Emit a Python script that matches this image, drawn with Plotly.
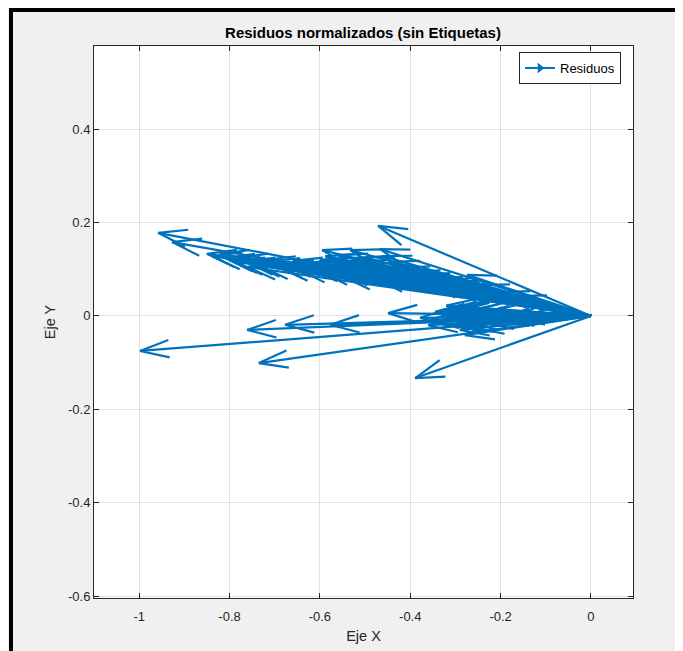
import math
import plotly.graph_objects as go

# Quiver data: every arrow starts at the origin (0, 0); (u, v) are the arrow tips
u_vals = [
    -0.958, -0.927, -0.850, -0.838, -0.821, -0.810, -0.788, -0.765, -0.732, -0.688,
    -0.644, -0.595, -0.588, -0.577, -0.555, -0.533, -0.529, -0.511, -0.500, -0.471,
    -0.467, -0.462, -0.445, -0.423, -0.400, -0.378, -0.334, -0.274, -0.246, -0.201,
    -0.555, -0.622, -0.710, -0.478, -0.157, -0.312,
    -0.800, -0.780, -0.750, -0.700, -0.660, -0.630, -0.600, -0.570, -0.560, -0.540,
    -0.520, -0.500, -0.490, -0.480, -0.460, -0.440, -0.420, -0.400, -0.380, -0.360,
    -0.550, -0.600, -0.650, -0.720, -0.760,
    -0.680, -0.620, -0.580, -0.530, -0.470, -0.430, -0.390, -0.350, -0.320, -0.290,
    -0.998, -0.761, -0.677, -0.577, -0.735, -0.449, -0.389,
    -0.345, -0.323, -0.301, -0.279, -0.268, -0.246, -0.223, -0.190, -0.334, -0.301,
    -0.290, -0.257, -0.235, -0.323, -0.356, -0.378, -0.157, -0.113, -0.201, -0.279,
    -0.301,
    -0.330, -0.310, -0.290, -0.270, -0.250, -0.320, -0.280, -0.360, -0.260, -0.300,
]
v_vals = [
    0.178, 0.158, 0.133, 0.128, 0.133, 0.124, 0.116, 0.116, 0.107, 0.103,
    0.111, 0.141, 0.128, 0.120, 0.116, 0.141, 0.124, 0.116, 0.099, 0.193,
    0.143, 0.128, 0.116, 0.103, 0.094, 0.088, 0.077, 0.088, 0.066, 0.051,
    0.094, 0.103, 0.116, 0.081, 0.043, 0.060,
    0.120, 0.125, 0.112, 0.110, 0.118, 0.108, 0.120, 0.105, 0.130, 0.100,
    0.108, 0.125, 0.110, 0.095, 0.105, 0.090, 0.085, 0.080, 0.075, 0.070,
    0.085, 0.095, 0.100, 0.120, 0.105,
    0.112, 0.114, 0.110, 0.112, 0.098, 0.094, 0.086, 0.080, 0.072, 0.066,
    -0.075, -0.030, -0.019, -0.019, -0.101, 0.006, -0.133,
    0.009, 0.013, 0.017, 0.019, 0.009, 0.004, 0.009, -0.004, -0.013, -0.019,
    -0.030, -0.026, -0.013, -0.004, -0.009, -0.004, -0.004, 0.000, -0.004, -0.041,
    -0.004,
    0.005, -0.008, 0.012, -0.015, 0.015, 0.022, -0.020, -0.020, 0.000, 0.000,
]

x_ticks = [-1, -0.8, -0.6, -0.4, -0.2, 0]
x_tick_text = ["-1", "-0.8", "-0.6", "-0.4", "-0.2", "0"]
y_ticks = [-0.6, -0.4, -0.2, 0, 0.2, 0.4]
y_tick_text = ["-0.6", "-0.4", "-0.2", "0", "0.2", "0.4"]

X_RANGE = [-1.1, 0.093]
Y_RANGE = [-0.604, 0.578]
PLOT_W, PLOT_H = 539, 552
SX = PLOT_W / (X_RANGE[1] - X_RANGE[0])
SY = PLOT_H / (Y_RANGE[1] - Y_RANGE[0])

xs, ys = [], []
for a, b in zip(u_vals, v_vals):
    xs += [0, a, None]
    ys += [0, b, None]
    dx, dy = a * SX, b * SY
    L = math.hypot(dx, dy)
    if L == 0:
        continue
    ux, uy = dx / L, dy / L
    hl = min(29.0, 0.35 * L)
    hw = 0.3 * hl
    bx, by = dx - hl * ux, dy - hl * uy
    lx, ly = bx - hw * uy, by + hw * ux
    rx, ry = bx + hw * uy, by - hw * ux
    xs += [lx / SX, a, rx / SX, None]
    ys += [ly / SY, b, ry / SY, None]

color = "#0072BD"
fig = go.Figure()
fig.add_trace(go.Scatter(x=xs, y=ys, mode="lines",
                         line=dict(color=color, width=2.2),
                         showlegend=False, hoverinfo="skip"))
fig.add_trace(go.Scatter(x=[None], y=[None], mode="lines+markers", name="Residuos",
                         line=dict(color=color, width=2),
                         marker=dict(symbol="triangle-right", size=9, color=color)))

font_family = "Liberation Sans, Arial, sans-serif"
axis_common = dict(
    showgrid=True, gridcolor="#e2e2e2", gridwidth=1,
    zeroline=False, showline=True, linecolor="#262626", linewidth=1,
    mirror="ticks", ticks="inside", ticklen=5, tickcolor="#262626",
    tickfont=dict(family=font_family, size=13, color="#262626"),
)

# page is rendered with an 8px body margin; margins compensate so the plot area
# lands at page x 94..633, y 46..598
OFF = 8

fig.update_layout(
    width=683, height=651,
    margin=dict(l=94 - OFF, r=683 - 633 + OFF, t=46 - OFF, b=651 - 598 + OFF),
    paper_bgcolor="#f0f0f0", plot_bgcolor="white",
    title=dict(text="<b>Residuos normalizados (sin Etiquetas)</b>",
               x=(363 - OFF) / 683, xanchor="center",
               y=1 - (33 - OFF) / 651, yanchor="middle", yref="container",
               font=dict(family=font_family, size=15, color="black")),
    xaxis=dict(range=X_RANGE, tickvals=x_ticks, ticktext=x_tick_text,
               ticklabelstandoff=6,
               title=dict(text="Eje X", standoff=8,
                          font=dict(family=font_family, size=14.5, color="#262626")),
               **axis_common),
    yaxis=dict(range=Y_RANGE, tickvals=y_ticks, ticktext=y_tick_text,
               title=dict(text="Eje Y", standoff=8,
                          font=dict(family=font_family, size=14.5, color="#262626")),
               **axis_common),
    legend=dict(x=(621 - 94) / 539, xanchor="right", y=1 - (58 - 46 - 6) / 552, yanchor="top",
                bgcolor="white", bordercolor="#262626", borderwidth=1,
                font=dict(family=font_family, size=13, color="black"),
                itemwidth=30),
    shapes=[
        dict(type="rect", xref="paper", yref="paper",
             x0=(9 - 94) / 539, x1=(13 - 94) / 539,
             y0=1 - (660 - 46) / 552, y1=1 + (46 - 8) / 552,
             fillcolor="black", line=dict(width=0)),
        dict(type="rect", xref="paper", yref="paper",
             x0=(9 - 94) / 539, x1=(700 - 94) / 539,
             y0=1 + (46 - 12) / 552, y1=1 + (46 - 8) / 552,
             fillcolor="black", line=dict(width=0)),
    ],
)

fig.write_html("out.html")
